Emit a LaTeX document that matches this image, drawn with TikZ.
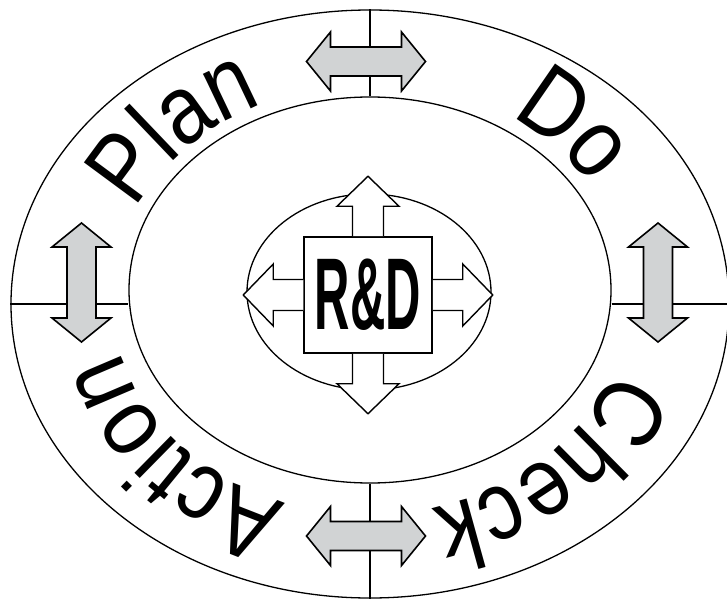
\documentclass[tikz,border=0pt]{standalone}
\usepackage{fontspec}
\setmainfont{Liberation Sans}
\newfontfamily\ringfamily[FakeStretch=0.86]{Liberation Sans}
\usepackage{graphicx}
\usepackage{tikz}
\usetikzlibrary{shapes.geometric, decorations.text}
\definecolor{arrowgray}{RGB}{209,211,212}
\newcommand{\ringfont}{\ringfamily\fontsize{98bp}{98bp}\selectfont}

\begin{document}
\begin{tikzpicture}[
  x=1bp, y=1bp,
  ring/.style={ellipse, draw, line width=1.3bp, inner sep=0pt},
  divider/.style={line width=1.1bp},
  swap/.style={draw, line width=1.6bp, fill=arrowgray, line join=miter},
  spoke/.style={draw, line width=1.4bp, fill=white, line join=miter},
  rdbox/.style={draw, line width=1.5bp, fill=white, minimum width=128bp, minimum height=116bp, inner sep=0pt},
  ringword/.style={decorate, decoration={text along path, text align=center, text={|\ringfont|#1}}}
]
  \useasboundingbox (0,0) rectangle (727,-604);

  \node[ring, minimum width=718bp, minimum height=588bp] (outer) at (370,-304) {};
  \node[ring, minimum width=482bp, minimum height=386bp] (inner) at (370,-290) {};

  \draw[divider] (outer.north) -- (inner.north);
  \draw[divider] (inner.south) -- (outer.south);
  \draw[divider] (outer.west) -- (outer.west -| inner.west);
  \draw[divider] (outer.east -| inner.east) -- (outer.east);

  % exchange arrows between the phases
  \coordinate (planDo) at (366,-61.5);
  \coordinate (checkAction) at (366,-536);
  \coordinate (actionPlan) at (81.5,-282.5);
  \coordinate (doCheck) at (658,-282.5);
  \foreach \pos/\ang in {planDo/0, checkAction/0, actionPlan/90, doCheck/90}
    \draw[swap, shift={(\pos)}, rotate=\ang] (-35.5,-14.5) -- (35.5,-14.5) -- (35.5,-29.5) -- (59.5,0)
      -- (35.5,29.5) -- (35.5,14.5) -- (-35.5,14.5) -- (-35.5,29.5) -- (-59.5,0) -- (-35.5,-29.5) -- cycle;

  % phase names along the ring
  \coordinate (midtop) at (370,-295);
  \coordinate (midbot) at (370,-304);
  \path[ringword=Plan] ([shift={(188:256 and 210)}]midtop) arc[start angle=188, end angle=88, x radius=256, y radius=210];
  \path[ringword=Do] ([shift={(91:258 and 212)}]midtop) arc[start angle=91, end angle=-9, x radius=258, y radius=212];
  \path[ringword=Check] ([shift={(5:256 and 210)}]midbot) arc[start angle=5, end angle=-95, x radius=256, y radius=210];
  \path[ringword=Action] ([shift={(-90:256 and 210)}]midbot) arc[start angle=-90, end angle=-190, x radius=256, y radius=210];

  % R&D core
  \node[ring, minimum width=244bp, minimum height=196bp] (core) at (369,-292) {};
  \node[rdbox] (rd) at (368,-295) {\fontsize{102bp}{102bp}\selectfont\bfseries\scalebox{0.48}[1]{R\&D}};
  \foreach \side/\ang in {north/90, south/-90, east/0, west/180}
    \draw[spoke, shift={(rd.\side)}, rotate=\ang] (0,-15.5) -- (30,-15.5) -- (30,-31) -- (60,0) -- (30,31) -- (30,15.5) -- (0,15.5);
\end{tikzpicture}
\end{document}
